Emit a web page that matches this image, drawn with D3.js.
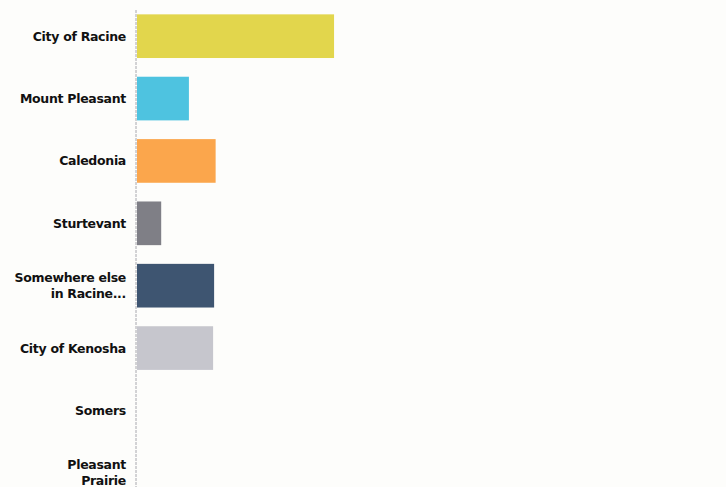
<!DOCTYPE html>
<html>
<head>
<meta charset="utf-8">
<script src="https://cdn.jsdelivr.net/npm/d3@7"></script>
<style>
  html, body { margin: 0; padding: 0; background: #fdfdfb; }
  svg { display: block; }
  .lbl text { font-family: "DejaVu Sans", Verdana, sans-serif; font-weight: bold; font-size: 12.5px; fill: #111; letter-spacing: -0.3px; }
</style>
</head>
<body>
<svg id="chart" width="726" height="487"></svg>
<script>
const categories = ["City of Racine", "Mount Pleasant", "Caledonia", "Sturtevant",
  "Somewhere else in Racine...", "City of Kenosha", "Somers", "Pleasant Prairie"];
const labelLines = [["City of Racine"], ["Mount Pleasant"], ["Caledonia"], ["Sturtevant"],
  ["Somewhere else", "in Racine..."], ["City of Kenosha"], ["Somers"], ["Pleasant", "Prairie"]];
const values = [39.1, 10.3, 15.6, 4.8, 15.3, 15.1, 0, 0];
const colors = ["#e2d64c", "#4ec3e0", "#fba64c", "#7f7f86", "#3e5571", "#c6c6cd", "#cccccc", "#cccccc"];

const svg = d3.select("#chart");
const x0 = 137;
const x = d3.scaleLinear().domain([0, 100]).range([x0, x0 + 504]);
const y = d3.scaleBand().domain(categories).range([5, 504]).paddingInner(0.3).paddingOuter(0.15);

// axis line
svg.append("line")
  .attr("x1", x0 - 1).attr("x2", x0 - 1)
  .attr("y1", 10).attr("y2", 487)
  .attr("stroke", "#a8a8ae").attr("stroke-width", 1)
  .attr("stroke-dasharray", "3,1");

svg.selectAll("rect.bar").data(categories).enter().append("rect")
  .attr("class", "bar")
  .attr("x", x(0))
  .attr("y", d => y(d))
  .attr("width", (d, i) => x(values[i]) - x(0))
  .attr("height", y.bandwidth())
  .attr("fill", (d, i) => colors[i]);

const axis = d3.axisLeft(y).tickSize(0).tickPadding(10);
const g = svg.append("g").attr("class", "lbl").attr("transform", `translate(${x0 - 1},0)`).call(axis);
g.select(".domain").remove();
g.selectAll(".tick text").each(function(d) {
  const i = categories.indexOf(d);
  const lines = labelLines[i];
  const t = d3.select(this);
  t.text(null).attr("dy", null);
  const lh = 16;
  const start = -(lines.length - 1) * lh / 2;
  lines.forEach((ln, k) => {
    t.append("tspan").attr("x", -10).attr("dy", k === 0 ? (start + 4.5) + "px" : lh + "px").text(ln);
  });
});
</script>
</body>
</html>
